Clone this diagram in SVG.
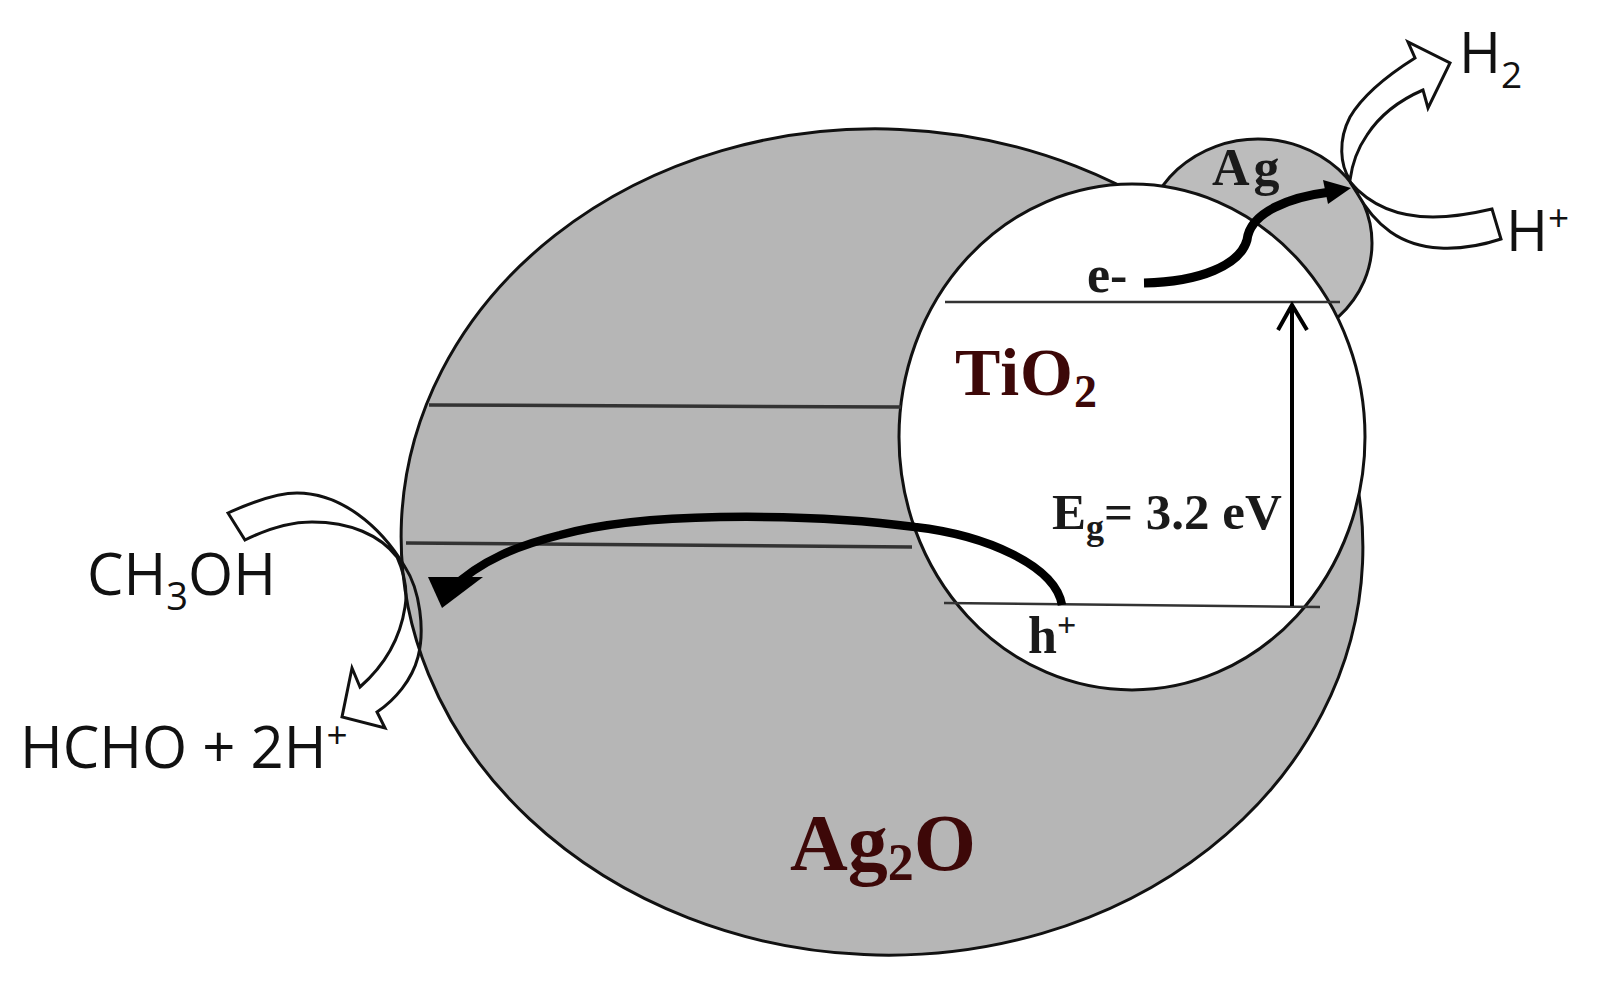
<svg xmlns="http://www.w3.org/2000/svg" width="1597" height="982" viewBox="0 0 1597 982">
<style>
.sans{font-family:"Open Sans","Noto Sans",sans-serif;fill:#111}
.serif{font-family:"Liberation Serif",serif;font-weight:700;fill:#1a1a1a}
.mat{fill:#3d0808}
.wh{stroke:#111;stroke-width:3;fill:#fff}
.lv{stroke:#333;stroke-width:2.5;fill:none}
.bk{stroke:#000;fill:none;stroke-width:8.5}
</style>
<rect width="1597" height="982" fill="#fff"/>
<g id="ag"><ellipse cx="1258" cy="243" rx="114" ry="104" fill="#bcbcbc" stroke="#111" stroke-width="3"/></g>
<g id="ag2o"><ellipse cx="882" cy="542" rx="481" ry="413" transform="rotate(2.5 882 542)" fill="#b6b6b6" stroke="#111" stroke-width="3"/></g>
<g id="tio2"><ellipse cx="1132" cy="437" rx="233" ry="253" fill="#fff" stroke="#111" stroke-width="3"/></g>
<g id="connectors">
<path class="lv" style="stroke-width:3.5" d="M429 405L901 407"/>
<path class="lv" style="stroke-width:3.5" d="M406 543L912 547"/>
<path class="lv" d="M945 302L1340 302"/>
<path class="lv" d="M944 603L1320 607"/>
<path d="M1292 606V305M1278 330L1292 305L1307 330" fill="none" stroke="#000" stroke-width="4"/>
<path class="bk" style="stroke-width:9" d="M1144 283C1200 282 1240 265 1247 240C1250 212 1290 197 1330 192"/>
<path d="M1351 188L1323 180L1328 204Z" fill="#000"/>
<path class="bk" d="M1062 605C1055 565 985 535 915 527C850 518 790 516 720 517C660 518 600 524 560 535C520 545 480 560 450 590"/>
<path d="M428 577L483 577L442 608Z" fill="#000"/>
<path class="wh" d="M1350 180C1340 165 1338 140 1350 117C1360 100 1380 80 1415 58L1408 42L1450 63L1428 108L1423 90C1400 100 1380 115 1367 135C1358 148 1352 165 1350 180Z"/>
<path class="wh" d="M1350 182C1368 203 1395 217 1433 217C1455 217 1475 213 1492 209L1501 239C1480 246 1460 249 1440 248C1400 246 1375 225 1357 193Z"/>
<path class="wh" style="fill:none" d="M228 513C250 503 275 493 297 493C340 493 380 525 405 567C420 590 425 630 418 657C412 680 395 700 377 712L385 728L342 717L352 668L360 687C385 665 400 640 405 607C408 590 405 575 397 557C380 535 350 522 312 522C290 522 265 530 245 540Z"/>
</g>
<g id="labels">
<text class="serif" x="1212" y="185" font-size="52" letter-spacing="4">Ag</text>
<text class="serif" x="1087" y="292" font-size="52">e-</text>
<text class="serif mat" x="955" y="395" font-size="68" letter-spacing="1">TiO<tspan font-size="46" dy="12">2</tspan></text>
<text class="serif" x="1052" y="529" font-size="51">E<tspan font-size="36" dy="10">g</tspan><tspan dy="-10">= 3.2 eV</tspan></text>
<text class="serif" x="1028" y="653" font-size="52">h<tspan font-size="34" dy="-17">+</tspan></text>
<text class="serif mat" x="790" y="870" font-size="80">Ag<tspan font-size="52" dy="10">2</tspan><tspan dy="-10">O</tspan></text>
<text class="sans" x="1459" y="73" font-size="57">H<tspan font-size="37" dy="15">2</tspan></text>
<text class="sans" x="1506" y="251" font-size="57">H<tspan font-size="37" dy="-20">+</tspan></text>
<text class="sans" x="87" y="595" font-size="58">CH<tspan font-size="38" dy="15">3</tspan><tspan dy="-15">OH</tspan></text>
<text class="sans" x="20" y="768" font-size="58">HCHO + 2H<tspan font-size="37" dy="-20">+</tspan></text>
</g>
</svg>
